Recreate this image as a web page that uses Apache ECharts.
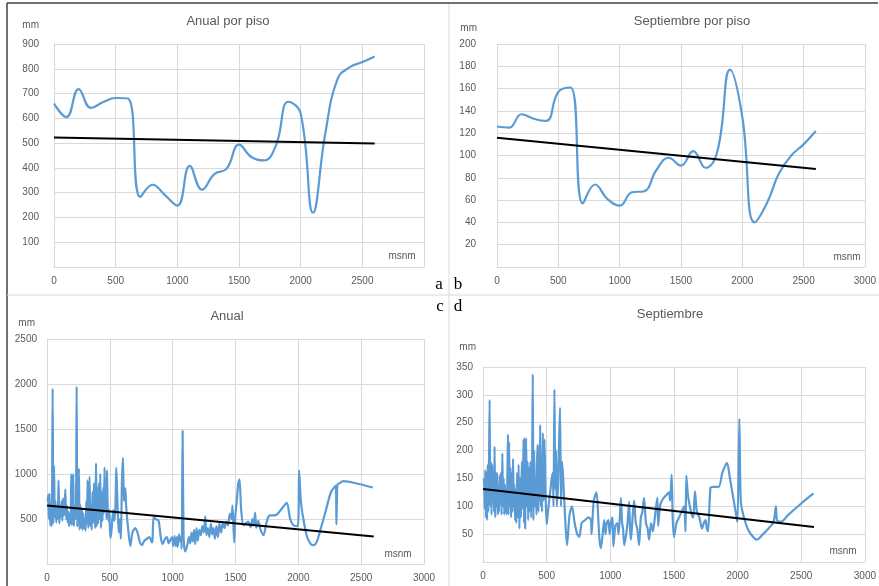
<!DOCTYPE html>
<html>
<head>
<meta charset="utf-8">
<script src="https://cdn.jsdelivr.net/npm/echarts@6/dist/echarts.min.js"></script>
<style>
html,body{margin:0;padding:0;background:#fff;}
#c{width:879px;height:586px;}
</style>
</head>
<body>
<div id="c"></div>
<script>
// Altitude floors (msnm) for panels a and b
var pisoAlt = [0,100,200,300,400,500,600,700,800,900,1000,1100,1200,1300,1400,1500,1600,1700,1800,1900,2000,2100,2200,2300,2400,2500,2600];
var anualPiso = [660,605,718,642,666,682,680,283,332,290,248,408,312,375,397,494,444,430,491,667,619,219,540,760,807,827,850];
var septPiso = [126,125,137,133,131,157,161,57,74,61,55,67,68,87,98,91,104,89,105,177,135,40,57,84,100,110,122];
var trendAnualPiso = [[0,523],[2600,498]];
var trendSeptPiso = [[0,116],[2600,88]];

// Station data (altitude, mm) for panels c and d
var anualEst = [[5,690],[10,770],[15,500],[20,780],[26,430],[32,650],[38,420],[45,1950],[50,450],[56,1090],[62,520],[68,700],[74,460],[80,640],[86,500],[92,930],[98,450],[104,620],[110,520],[116,700],[122,480],[128,730],[134,540],[140,600],[146,830],[152,500],[158,650],[164,460],[170,580],[176,420],[182,560],[188,450],[193,1000],[198,430],[204,700],[209,1000],[214,420],[220,650],[226,500],[231,600],[236,1970],[241,420],[247,700],[254,1060],[259,380],[265,660],[271,400],[277,620],[283,380],[289,560],[295,400],[301,500],[307,370],[313,700],[318,450],[323,930],[328,400],[333,700],[339,970],[344,420],[350,650],[356,380],[362,800],[368,460],[374,900],[380,500],[385,400],[390,1120],[396,420],[402,850],[408,450],[414,900],[420,500],[424,1000],[430,400],[436,800],[442,480],[448,850],[453,560],[458,1070],[463,600],[468,850],[473,500],[477,1040],[482,700],[488,480],[495,600],[504,290],[512,350],[520,500],[528,600],[535,480],[545,650],[551,1070],[558,800],[565,500],[572,350],[580,500],[588,280],[596,900],[604,1180],[612,700],[618,840],[623,830],[632,600],[645,400],[663,200],[680,350],[702,400],[720,350],[740,240],[755,210],[775,260],[795,280],[815,300],[835,240],[840,270],[848,520],[865,500],[888,480],[905,300],[920,220],[940,280],[954,300],[968,230],[980,260],[995,300],[1005,200],[1015,310],[1025,200],[1034,300],[1040,190],[1050,330],[1058,250],[1066,300],[1072,170],[1079,1480],[1087,300],[1100,140],[1115,200],[1130,300],[1140,230],[1150,350],[1160,250],[1170,380],[1180,220],[1190,400],[1200,260],[1212,380],[1224,320],[1236,420],[1248,350],[1259,530],[1268,320],[1280,400],[1292,300],[1304,450],[1315,330],[1325,400],[1336,280],[1348,420],[1360,300],[1372,450],[1385,350],[1398,450],[1412,400],[1425,470],[1440,430],[1455,560],[1468,500],[1476,650],[1484,400],[1490,240],[1497,500],[1510,700],[1522,900],[1532,940],[1545,600],[1564,430],[1580,450],[1600,470],[1620,410],[1635,500],[1645,430],[1656,570],[1665,400],[1680,480],[1700,380],[1723,320],[1745,450],[1760,520],[1776,540],[1800,540],[1829,550],[1860,600],[1908,680],[1935,500],[1961,430],[1996,420],[2006,1040],[2020,700],[2040,500],[2070,300],[2100,220],[2125,210],[2150,260],[2180,400],[2220,600],[2260,800],[2298,870],[2303,440],[2310,880],[2319,890],[2359,920],[2450,900],[2592,850]];
var septEst = [[5,150],[10,140],[14,95],[18,165],[22,80],[27,160],[32,75],[37,175],[42,90],[47,170],[52,291],[57,100],[62,180],[67,85],[72,175],[77,110],[82,150],[87,90],[91,207],[96,80],[101,160],[106,100],[111,160],[116,85],[121,130],[126,90],[131,155],[136,110],[141,160],[146,85],[152,195],[157,100],[162,150],[167,85],[172,140],[177,90],[182,130],[187,85],[192,160],[196,229],[200,85],[205,215],[210,100],[215,170],[220,80],[226,160],[231,90],[236,185],[241,100],[246,140],[252,75],[257,130],[262,70],[268,160],[274,80],[280,175],[286,60],[292,150],[298,80],[305,180],[312,95],[318,220],[322,70],[326,223],[331,60],[335,170],[339,222],[344,100],[350,180],[355,75],[360,170],[366,90],[372,180],[378,80],[385,150],[391,337],[396,75],[402,200],[408,100],[414,150],[420,85],[426,210],[430,207],[435,90],[440,200],[445,110],[449,246],[454,100],[459,180],[464,90],[470,232],[476,110],[483,220],[490,130],[495,95],[501,68],[510,90],[520,110],[530,130],[540,150],[548,160],[554,100],[561,310],[568,130],[574,200],[579,100],[588,130],[596,200],[605,277],[613,100],[621,180],[630,150],[645,80],[660,30],[680,85],[699,100],[720,70],[740,50],[757,45],[775,70],[800,75],[830,80],[848,75],[853,50],[870,110],[892,125],[905,80],[915,40],[926,25],[940,50],[952,75],[962,50],[972,70],[985,75],[995,50],[1005,70],[1017,80],[1024,28],[1040,65],[1055,70],[1065,50],[1075,80],[1083,115],[1093,70],[1100,60],[1110,30],[1125,50],[1135,70],[1148,108],[1155,60],[1162,40],[1175,80],[1187,110],[1200,70],[1212,60],[1226,30],[1240,80],[1252,90],[1265,115],[1280,70],[1293,60],[1305,40],[1320,70],[1335,55],[1350,80],[1360,100],[1370,115],[1376,65],[1390,100],[1405,110],[1420,115],[1440,120],[1461,125],[1470,110],[1482,157],[1490,80],[1500,45],[1520,70],[1540,80],[1560,90],[1580,100],[1591,55],[1597,155],[1610,120],[1625,100],[1640,85],[1652,80],[1665,127],[1680,90],[1700,80],[1720,60],[1735,70],[1748,75],[1758,60],[1768,55],[1787,133],[1810,135],[1852,135],[1880,160],[1917,178],[1940,150],[1970,110],[1996,75],[2000,72],[2014,257],[2025,110],[2050,80],[2090,55],[2152,40],[2200,50],[2250,62],[2283,72],[2301,100],[2310,75],[2340,72],[2400,85],[2500,105],[2596,123]];
var trendAnualEst = [[0,650],[2600,306]];
var trendSeptEst = [[0,131],[2600,63]];

var titles = ['Anual por piso','Septiembre por piso','Anual','Septiembre'];
var xTicks = [0,500,1000,1500,2000,2500,3000];

var FONT = 'Liberation Sans';
var GRAY = '#595959';
var GRID = '#d9d9d9';
var BLUE = '#5b9bd5';

function pair(xs, ys){ return xs.map(function(x,i){ return [x, ys[i]]; }); }

function xAx(idx, hideLast){
  return {
    type:'value', gridIndex:idx, min:0, max:3000, interval:500,
    axisLine:{show:true, lineStyle:{color:GRID, width:1}},
    axisTick:{show:false},
    splitLine:{show:true, lineStyle:{color:GRID, width:1}},
    axisLabel:{color:GRAY, fontFamily:FONT, fontSize:10, margin:9,
      formatter:function(v){ return (hideLast && v===3000) ? '' : String(v); }}
  };
}
function yAx(idx, max, interval, margin){
  return {
    type:'value', gridIndex:idx, min:0, max:max, interval:interval,
    axisLine:{show:true, lineStyle:{color:GRID, width:1}},
    axisTick:{show:false},
    splitLine:{show:true, lineStyle:{color:GRID, width:1}},
    axisLabel:{color:GRAY, fontFamily:FONT, fontSize:10, margin:margin,
      formatter:function(v){ return v===0 ? '' : String(v); }}
  };
}
function dataLine(idx, data, smooth){
  return {type:'line', xAxisIndex:idx, yAxisIndex:idx, data:data, smooth:smooth,
    showSymbol:false, symbol:'none', lineStyle:{color:BLUE, width:2.2}, itemStyle:{color:BLUE}, animation:false, z:2};
}
function trendLine(idx, data){
  return {type:'line', xAxisIndex:idx, yAxisIndex:idx, data:data, smooth:false,
    showSymbol:false, symbol:'none', lineStyle:{color:'#000', width:2}, itemStyle:{color:'#000'}, animation:false, z:3};
}
function txt(x, y, s, opts){
  opts = opts || {};
  return {type:'text', x:x, y:y, style:{text:s, fill:opts.fill||GRAY, font:(opts.font||('10px "'+FONT+'"')),
    textAlign:opts.align||'center', textVerticalAlign:'middle'}, z:10};
}

var chart = echarts.init(document.getElementById('c'));
chart.setOption({
  animation:false,
  backgroundColor:'#fff',
  grid:[
    {left:54, right:455, top:44, bottom:319},
    {left:497, right:11, top:44, bottom:319},
    {left:47, right:455, top:339, bottom:22},
    {left:483, right:12, top:367, bottom:24}
  ],
  xAxis:[xAx(0,true), xAx(1,false), xAx(2,false), xAx(3,false)],
  yAxis:[yAx(0,900,100,15), yAx(1,200,20,21), yAx(2,2500,500,10), yAx(3,350,50,10)],
  series:[
    dataLine(0, pair(pisoAlt, anualPiso), 0.45), trendLine(0, trendAnualPiso),
    dataLine(1, pair(pisoAlt, septPiso), 0.45), trendLine(1, trendSeptPiso),
    dataLine(2, anualEst, 0.25), trendLine(2, trendAnualEst),
    dataLine(3, septEst, 0.25), trendLine(3, trendSeptEst)
  ],
  graphic:[
    // frame lines
    {type:'line', shape:{x1:7, y1:3, x2:878, y2:3}, style:{stroke:'#404040', lineWidth:1.5}, z:20},
    {type:'line', shape:{x1:7, y1:3, x2:7, y2:586}, style:{stroke:'#404040', lineWidth:1.5}, z:20},
    {type:'line', shape:{x1:449, y1:4, x2:449, y2:586}, style:{stroke:'#d9d9d9', lineWidth:1}, z:20},
    {type:'line', shape:{x1:7, y1:295, x2:879, y2:295}, style:{stroke:'#d9d9d9', lineWidth:1.2}, z:20},
    // titles
    txt(228, 21, titles[0], {font:'13px "'+FONT+'"'}),
    txt(692, 21, titles[1], {font:'13px "'+FONT+'"'}),
    txt(227, 316, titles[2], {font:'13px "'+FONT+'"'}),
    txt(670, 314, titles[3], {font:'13px "'+FONT+'"'}),
    // unit labels
    txt(39, 25, 'mm', {align:'right'}),
    txt(477, 28, 'mm', {align:'right'}),
    txt(35, 323, 'mm', {align:'right'}),
    txt(476, 347, 'mm', {align:'right'}),
    txt(402, 256, 'msnm'),
    txt(847, 257, 'msnm'),
    txt(398, 554, 'msnm'),
    txt(843, 551, 'msnm'),
    // panel letters
    txt(439, 285, 'a', {fill:'#000', font:'17px "Liberation Serif"'}),
    txt(458, 285, 'b', {fill:'#000', font:'17px "Liberation Serif"'}),
    txt(440, 307, 'c', {fill:'#000', font:'17px "Liberation Serif"'}),
    txt(458, 307, 'd', {fill:'#000', font:'17px "Liberation Serif"'})
  ]
});
</script>
</body>
</html>
